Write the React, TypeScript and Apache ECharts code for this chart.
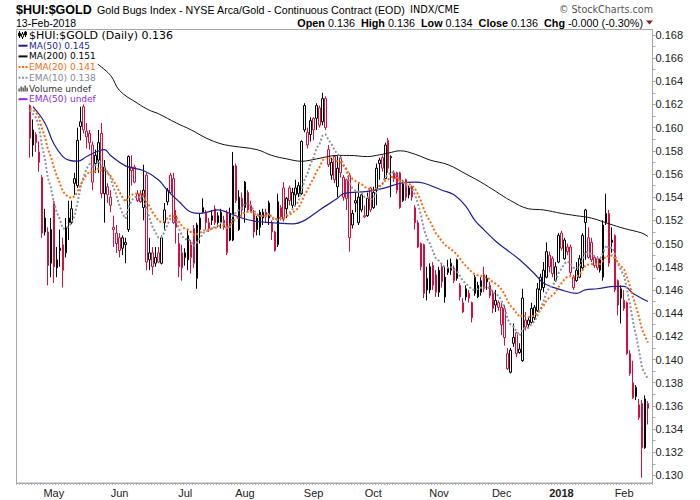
import React, { useEffect, useRef } from "react";
import * as echarts from "echarts";

// ---- calendar (trading days shown on the axis) ----
const holidays = ["2017-04-14", "2017-05-29", "2017-07-04", "2017-09-04", "2017-11-23", "2017-12-25", "2018-01-01", "2018-01-15"];
const firstDay = "2017-04-12";
const totalDays = 213;
const leadDays = 4; // days at the left edge where only the averages are visible

// ---- daily OHLC of $HUI:$GOLD (from 2017-04-19 to 2018-02-13) ----
const opens = [
  0.1619, 0.1585, 0.1587, 0.1579, 0.1557, 0.1510, 0.1510, 0.1483, 0.1536, 0.1479,
  0.1496, 0.1499, 0.1492, 0.1518, 0.1518, 0.1552, 0.1550, 0.1601, 0.1618, 0.1592,
  0.1595, 0.1585, 0.1569, 0.1572, 0.1595, 0.1543, 0.1549, 0.1540, 0.1514, 0.1500,
  0.1505, 0.1505, 0.1499, 0.1512, 0.1566, 0.1566, 0.1537, 0.1543, 0.1531, 0.1559,
  0.1492, 0.1492, 0.1483, 0.1492, 0.1483, 0.1518, 0.1536, 0.1559, 0.1556, 0.1524,
  0.1500, 0.1492, 0.1488, 0.1486, 0.1499, 0.1513, 0.1470, 0.1512, 0.1531, 0.1527,
  0.1518, 0.1520, 0.1530, 0.1518, 0.1518, 0.1520, 0.1527, 0.1503, 0.1503, 0.1567,
  0.1512, 0.1529, 0.1531, 0.1544, 0.1533, 0.1526, 0.1522, 0.1527, 0.1522, 0.1527,
  0.1522, 0.1518, 0.1510, 0.1499, 0.1531, 0.1548, 0.1530, 0.1548, 0.1533, 0.1542,
  0.1543, 0.1543, 0.1619, 0.1596, 0.1594, 0.1608, 0.1608, 0.1617, 0.1605, 0.1625,
  0.1581, 0.1559, 0.1575, 0.1549, 0.1574, 0.1557, 0.1555, 0.1559, 0.1516, 0.1535,
  0.1518, 0.1529, 0.1524, 0.1524, 0.1548, 0.1531, 0.1546, 0.1572, 0.1574, 0.1556,
  0.1589, 0.1574, 0.1561, 0.1561, 0.1561, 0.1537, 0.1555, 0.1548, 0.1549, 0.1531,
  0.1518, 0.1500, 0.1499, 0.1460, 0.1460, 0.1481, 0.1473, 0.1458, 0.1480, 0.1454,
  0.1479, 0.1477, 0.1479, 0.1486, 0.1464, 0.1441, 0.1461, 0.1457, 0.1436, 0.1471,
  0.1454, 0.1458, 0.1473, 0.1470, 0.1464, 0.1457, 0.1447, 0.1449, 0.1445, 0.1444,
  0.1405, 0.1389, 0.1414, 0.1423, 0.1409, 0.1399, 0.1434, 0.1434, 0.1432, 0.1436,
  0.1442, 0.1460, 0.1462, 0.1471, 0.1490, 0.1487, 0.1468, 0.1484, 0.1509, 0.1487,
  0.1497, 0.1497, 0.1471, 0.1468, 0.1471, 0.1479, 0.1518, 0.1505, 0.1501, 0.1488,
  0.1487, 0.1477, 0.1471, 0.1518, 0.1526, 0.1503, 0.1507, 0.1468, 0.1461, 0.1444,
  0.1449, 0.1405, 0.1380, 0.1376, 0.1361, 0.1362, 0.1324, 0.1358,
];
const highs = [
  0.1621, 0.1607, 0.1596, 0.1588, 0.1559, 0.1530, 0.1514, 0.1522, 0.1537, 0.1497,
  0.1512, 0.1505, 0.1522, 0.1537, 0.1537, 0.1561, 0.1600, 0.1618, 0.1624, 0.1604,
  0.1598, 0.1588, 0.1581, 0.1598, 0.1604, 0.1572, 0.1552, 0.1546, 0.1524, 0.1516,
  0.1509, 0.1507, 0.1505, 0.1576, 0.1576, 0.1568, 0.1546, 0.1546, 0.1568, 0.1561,
  0.1505, 0.1497, 0.1497, 0.1497, 0.1507, 0.1535, 0.1548, 0.1561, 0.1561, 0.1529,
  0.1509, 0.1499, 0.1496, 0.1512, 0.1503, 0.1516, 0.1518, 0.1526, 0.1539, 0.1529,
  0.1522, 0.1529, 0.1533, 0.1527, 0.1530, 0.1524, 0.1529, 0.1531, 0.1579, 0.1569,
  0.1546, 0.1544, 0.1554, 0.1546, 0.1537, 0.1529, 0.1524, 0.1529, 0.1530, 0.1530,
  0.1537, 0.1520, 0.1511, 0.1543, 0.1533, 0.1553, 0.1540, 0.1550, 0.1548, 0.1555,
  0.1553, 0.1589, 0.1621, 0.1600, 0.1609, 0.1609, 0.1621, 0.1619, 0.1630, 0.1627,
  0.1585, 0.1574, 0.1576, 0.1576, 0.1576, 0.1559, 0.1556, 0.1561, 0.1529, 0.1544,
  0.1552, 0.1543, 0.1533, 0.1544, 0.1549, 0.1549, 0.1569, 0.1574, 0.1576, 0.1587,
  0.1591, 0.1576, 0.1563, 0.1562, 0.1562, 0.1555, 0.1556, 0.1550, 0.1550, 0.1533,
  0.1520, 0.1501, 0.1500, 0.1480, 0.1483, 0.1484, 0.1477, 0.1480, 0.1483, 0.1480,
  0.1486, 0.1487, 0.1481, 0.1487, 0.1466, 0.1453, 0.1464, 0.1460, 0.1450, 0.1473,
  0.1467, 0.1471, 0.1480, 0.1473, 0.1467, 0.1460, 0.1460, 0.1451, 0.1449, 0.1447,
  0.1410, 0.1410, 0.1431, 0.1424, 0.1414, 0.1461, 0.1441, 0.1436, 0.1449, 0.1447,
  0.1466, 0.1474, 0.1484, 0.1501, 0.1493, 0.1489, 0.1484, 0.1509, 0.1511, 0.1505,
  0.1500, 0.1499, 0.1473, 0.1484, 0.1490, 0.1509, 0.1530, 0.1514, 0.1505, 0.1490,
  0.1489, 0.1487, 0.1520, 0.1543, 0.1529, 0.1514, 0.1508, 0.1469, 0.1464, 0.1460,
  0.1450, 0.1408, 0.1399, 0.1378, 0.1366, 0.1365, 0.1369, 0.1364,
];
const lows = [
  0.1574, 0.1575, 0.1579, 0.1562, 0.1505, 0.1507, 0.1464, 0.1471, 0.1466, 0.1471,
  0.1480, 0.1462, 0.1488, 0.1503, 0.1517, 0.1542, 0.1548, 0.1589, 0.1595, 0.1582,
  0.1581, 0.1546, 0.1561, 0.1561, 0.1539, 0.1518, 0.1535, 0.1527, 0.1497, 0.1492,
  0.1488, 0.1490, 0.1483, 0.1510, 0.1550, 0.1552, 0.1536, 0.1535, 0.1520, 0.1477,
  0.1477, 0.1473, 0.1480, 0.1483, 0.1482, 0.1512, 0.1533, 0.1543, 0.1517, 0.1500,
  0.1471, 0.1468, 0.1481, 0.1477, 0.1474, 0.1479, 0.1461, 0.1500, 0.1526, 0.1512,
  0.1510, 0.1516, 0.1516, 0.1514, 0.1513, 0.1512, 0.1490, 0.1502, 0.1502, 0.1535,
  0.1511, 0.1523, 0.1518, 0.1527, 0.1527, 0.1505, 0.1507, 0.1507, 0.1516, 0.1518,
  0.1516, 0.1503, 0.1493, 0.1497, 0.1520, 0.1519, 0.1522, 0.1533, 0.1529, 0.1533,
  0.1540, 0.1542, 0.1596, 0.1582, 0.1588, 0.1589, 0.1598, 0.1600, 0.1602, 0.1598,
  0.1566, 0.1555, 0.1552, 0.1540, 0.1557, 0.1537, 0.1529, 0.1493, 0.1513, 0.1527,
  0.1516, 0.1527, 0.1522, 0.1523, 0.1527, 0.1530, 0.1533, 0.1555, 0.1562, 0.1556,
  0.1561, 0.1540, 0.1553, 0.1543, 0.1530, 0.1536, 0.1537, 0.1539, 0.1537, 0.1512,
  0.1496, 0.1477, 0.1453, 0.1451, 0.1457, 0.1460, 0.1454, 0.1454, 0.1462, 0.1449,
  0.1473, 0.1473, 0.1466, 0.1468, 0.1451, 0.1440, 0.1451, 0.1449, 0.1432, 0.1455,
  0.1453, 0.1455, 0.1458, 0.1460, 0.1453, 0.1440, 0.1441, 0.1442, 0.1421, 0.1412,
  0.1391, 0.1388, 0.1411, 0.1402, 0.1405, 0.1398, 0.1425, 0.1427, 0.1431, 0.1434,
  0.1441, 0.1451, 0.1458, 0.1470, 0.1475, 0.1471, 0.1467, 0.1483, 0.1494, 0.1486,
  0.1490, 0.1473, 0.1460, 0.1467, 0.1470, 0.1477, 0.1486, 0.1487, 0.1484, 0.1479,
  0.1477, 0.1475, 0.1468, 0.1516, 0.1480, 0.1492, 0.1458, 0.1438, 0.1431, 0.1442,
  0.1404, 0.1386, 0.1366, 0.1365, 0.1348, 0.1298, 0.1323, 0.1344,
];
const closes = [
  0.1591, 0.1598, 0.1594, 0.1570, 0.1509, 0.1522, 0.1481, 0.1512, 0.1480, 0.1486,
  0.1494, 0.1477, 0.1514, 0.1522, 0.1530, 0.1556, 0.1589, 0.1605, 0.1598, 0.1597,
  0.1587, 0.1553, 0.1576, 0.1587, 0.1543, 0.1566, 0.1542, 0.1533, 0.1512, 0.1509,
  0.1494, 0.1496, 0.1501, 0.1575, 0.1563, 0.1553, 0.1543, 0.1536, 0.1546, 0.1484,
  0.1486, 0.1480, 0.1488, 0.1484, 0.1505, 0.1529, 0.1546, 0.1544, 0.1518, 0.1514,
  0.1480, 0.1479, 0.1492, 0.1507, 0.1488, 0.1483, 0.1516, 0.1522, 0.1527, 0.1518,
  0.1513, 0.1524, 0.1518, 0.1524, 0.1527, 0.1514, 0.1492, 0.1526, 0.1567, 0.1537,
  0.1540, 0.1539, 0.1553, 0.1529, 0.1528, 0.1510, 0.1512, 0.1514, 0.1527, 0.1523,
  0.1535, 0.1510, 0.1494, 0.1536, 0.1523, 0.1521, 0.1539, 0.1537, 0.1544, 0.1548,
  0.1550, 0.1588, 0.1598, 0.1585, 0.1606, 0.1598, 0.1619, 0.1602, 0.1625, 0.1600,
  0.1568, 0.1570, 0.1555, 0.1565, 0.1561, 0.1540, 0.1539, 0.1505, 0.1526, 0.1537,
  0.1540, 0.1542, 0.1523, 0.1539, 0.1529, 0.1544, 0.1565, 0.1569, 0.1565, 0.1585,
  0.1565, 0.1575, 0.1556, 0.1546, 0.1531, 0.1552, 0.1540, 0.1542, 0.1540, 0.1518,
  0.1497, 0.1480, 0.1457, 0.1470, 0.1480, 0.1464, 0.1458, 0.1477, 0.1467, 0.1471,
  0.1475, 0.1483, 0.1468, 0.1470, 0.1454, 0.1449, 0.1454, 0.1453, 0.1449, 0.1457,
  0.1464, 0.1468, 0.1461, 0.1467, 0.1455, 0.1444, 0.1451, 0.1445, 0.1430, 0.1419,
  0.1392, 0.1408, 0.1419, 0.1405, 0.1406, 0.1453, 0.1428, 0.1430, 0.1444, 0.1445,
  0.1461, 0.1471, 0.1477, 0.1493, 0.1480, 0.1474, 0.1480, 0.1507, 0.1496, 0.1503,
  0.1493, 0.1475, 0.1462, 0.1477, 0.1487, 0.1507, 0.1529, 0.1488, 0.1486, 0.1481,
  0.1479, 0.1486, 0.1516, 0.1526, 0.1483, 0.1501, 0.1460, 0.1447, 0.1453, 0.1451,
  0.1405, 0.1388, 0.1367, 0.1368, 0.1350, 0.1324, 0.1366, 0.1362,
];

// ---- moving averages (day index on the axis, value) ----
const ma50Days = [5, 9, 12, 15, 17, 20, 23, 26, 29, 31, 36, 42, 47, 50, 54, 58, 61, 67, 70, 75, 80, 85, 92, 96, 101, 107, 109, 117, 123, 128, 133, 136, 142, 146, 150, 153, 156, 160, 164, 168, 173, 176, 182, 187, 190, 194, 200, 203, 206, 211];
const ma50Values = [0.1618, 0.1604, 0.1586, 0.1575, 0.1572, 0.1571, 0.1575, 0.1579, 0.1581, 0.1576, 0.1567, 0.1563, 0.1555, 0.1546, 0.1536, 0.1527, 0.1526, 0.1529, 0.1527, 0.1522, 0.1519, 0.1518, 0.1517, 0.152, 0.1529, 0.1539, 0.1543, 0.1545, 0.1548, 0.1552, 0.1553, 0.1552, 0.1546, 0.1542, 0.1532, 0.152, 0.1512, 0.1502, 0.1494, 0.1486, 0.1474, 0.1466, 0.146, 0.1457, 0.146, 0.1461, 0.1463, 0.1463, 0.1457, 0.145];
const ma200Days = [26, 31, 34, 40, 44, 47, 53, 58, 63, 68, 72, 80, 85, 90, 95, 100, 107, 111, 117, 120, 124, 128, 133, 138, 144, 150, 155, 160, 165, 171, 176, 182, 187, 192, 198, 203, 209, 211];
const ma200Values = [0.1656, 0.1645, 0.1632, 0.1621, 0.1615, 0.1612, 0.1604, 0.1598, 0.1591, 0.1586, 0.1584, 0.1581, 0.1576, 0.1573, 0.1571, 0.1573, 0.1576, 0.1576, 0.1575, 0.1576, 0.1578, 0.158, 0.1577, 0.1572, 0.1568, 0.156, 0.1553, 0.1545, 0.1537, 0.153, 0.1529, 0.1526, 0.1524, 0.1522, 0.1517, 0.1513, 0.1509, 0.1506];
const ema20Start = 0.1617;
const ema10Start = 0.1615;

// ---- axis ticks ----
const yTicks = [0.13, 0.132, 0.134, 0.136, 0.138, 0.14, 0.142, 0.144, 0.146, 0.148, 0.15, 0.152, 0.154, 0.156, 0.158, 0.16, 0.162, 0.164, 0.166, 0.168];
const monthNames = ["Jan", "Feb", "Mar", "Apr", "May", "Jun", "Jul", "Aug", "Sep", "Oct", "Nov", "Dec"];

// ---- header texts ----
const symbolText = "$HUI:$GOLD";
const descText = "Gold Bugs Index - NYSE Arca/Gold - Continuous Contract (EOD)";
const exchText = "INDX/CME";
const dateText = "13-Feb-2018";
const quoteText = "{b|Open} 0.136  {b|High} 0.136  {b|Low} 0.134  {b|Close} 0.136  {b|Chg} -0.000 (-0.30%)";
const legendRows = [
  { label: "$HUI:$GOLD (Daily) 0.136", color: "#000000", icon: "candle" },
  { label: "MA(50) 0.145", color: "#1f1f91", icon: "solid", iconColor: "#1f1f91" },
  { label: "MA(200) 0.151", color: "#000000", icon: "solid", iconColor: "#111111" },
  { label: "EMA(20) 0.141", color: "#f96b0f", icon: "dot", iconColor: "#f96b0f" },
  { label: "EMA(10) 0.138", color: "#7f8a96", icon: "dot", iconColor: "#8c96a0" },
  { label: "Volume undef", color: "#333333", icon: "volume" },
  { label: "EMA(50) undef", color: "#8a2be2", icon: "solid", iconColor: "#8a2be2" },
];

const RED = "#d40f3f";
const BLACK = "#000000";

function tradingDays(start: string, count: number): string[] {
  const out: string[] = [];
  const d = new Date(start + "T00:00:00Z");
  while (out.length < count) {
    const wd = d.getUTCDay();
    const s = d.toISOString().slice(0, 10);
    if (wd !== 0 && wd !== 6 && holidays.indexOf(s) < 0) out.push(s);
    d.setUTCDate(d.getUTCDate() + 1);
  }
  return out;
}

function ema(period: number, start: number): number[] {
  const k = 2 / (period + 1);
  let e = start;
  return closes.map((c, i) => {
    if (i > 0) e = e + k * (c - e);
    return +e.toFixed(5);
  });
}

export default function App() {
  const ref = useRef<HTMLDivElement>(null);
  useEffect(() => {
    document.body.style.margin = "0";
    const el = ref.current!;
    const chart = echarts.init(el, null, { renderer: "svg" });

    const dates = tradingDays(firstDay, totalDays);
    const monthStart = new Set<number>();
    dates.forEach((d, i) => {
      if (i > 0 && d.slice(0, 7) !== dates[i - 1].slice(0, 7)) monthStart.add(i);
    });

    const candleData = dates.map((d, i) => {
      const k = i - leadDays;
      if (k < 0 || k >= closes.length) return "-";
      const o = opens[k], c = closes[k], l = lows[k], h = highs[k];
      const prev = k > 0 ? closes[k - 1] : o;
      const col = c >= prev ? BLACK : RED;
      return { value: [o, c, l, h], itemStyle: { color: "#ffffff", color0: col, borderColor: col, borderColor0: col } };
    });
    const toLine = (vals: number[]) =>
      dates.map((d, i) => {
        const k = i - leadDays;
        return k < 0 || k >= vals.length ? "-" : vals[k];
      });
    const ema20 = toLine(ema(20, ema20Start));
    const ema10 = toLine(ema(10, ema10Start));
    const ma50 = ma50Days.map((d, j) => [d, ma50Values[j]]);
    const ma200 = ma200Days.map((d, j) => [d, ma200Values[j]]);

    const tickMarks: number[] = [];
    yTicks.forEach((v) => {
      tickMarks.push(v);
      if (v < 0.168) tickMarks.push(+(v + 0.001).toFixed(3));
    });

    const ctx = document.createElement("canvas").getContext("2d")!;
    const measure = (t: string, f: string) => {
      ctx.font = f;
      return ctx.measureText(t).width;
    };

    const Z = 100;
    const g: any[] = [];
    g.push({ type: "rect", silent: true, z: 1, shape: { x: 16.5, y: 29.5, width: 636, height: 453.5 }, style: { fill: "none", stroke: "#a8a8a8", lineWidth: 1 } });
    // header
    g.push({ type: "text", silent: true, x: 16, y: 9.5, style: { text: symbolText, font: 'bold 12.5px "Liberation Sans"', fill: "#000", verticalAlign: "middle" } });
    g.push({ type: "text", silent: true, x: 97, y: 9.5, style: { text: descText, font: '10.7px "Liberation Sans"', fill: "#000", verticalAlign: "middle" } });
    g.push({ type: "text", silent: true, x: 410, y: 9.5, style: { text: exchText, font: '9.8px "DejaVu Sans"', fill: "#000", verticalAlign: "middle" } });
    g.push({ type: "text", silent: true, x: 653, y: 9.5, style: { text: "\u00a9 StockCharts.com", font: '9.6px "DejaVu Sans"', fill: "#555", align: "right", verticalAlign: "middle" } });
    g.push({ type: "text", silent: true, x: 16, y: 23, style: { text: dateText, font: '10.5px "Liberation Sans"', fill: "#000", verticalAlign: "middle" } });
    g.push({
      type: "text", silent: true, x: 643, y: 23,
      style: {
        text: quoteText, align: "right", verticalAlign: "middle", fontSize: 10.8, fontFamily: "Liberation Sans", fill: "#000",
        rich: { b: { fontSize: 10.8, fontFamily: "Liberation Sans", fontWeight: "bold", fill: "#000" } },
      },
    });
    g.push({ type: "polygon", silent: true, shape: { points: [[646, 20.5], [653, 20.5], [649.5, 24.5]] }, style: { fill: "#8b1a2e" } });

    // legend inside plot
    legendRows.forEach((row, k) => {
      const cy = 35 + 10.7 * k;
      const font = k === 0 ? '11px "DejaVu Sans"' : '9px "DejaVu Sans"';
      const w = measure(row.label, font);
      const top = Math.max(cy - 5.35, 30.2);
      g.push({ type: "rect", silent: true, z: Z, shape: { x: 17, y: top, width: 14 + w, height: cy + 5.35 - top }, style: { fill: "#ffffff" } });
      g.push({ type: "text", silent: true, z: Z + 2, x: 29, y: cy, style: { text: row.label, font, fill: row.color, verticalAlign: "middle" } });
      if (row.icon === "solid") {
        g.push({ type: "line", silent: true, z: Z + 1, shape: { x1: 18.5, y1: cy, x2: 27.5, y2: cy }, style: { stroke: row.iconColor, lineWidth: 2 } });
      } else if (row.icon === "dot") {
        g.push({ type: "line", silent: true, z: Z + 1, shape: { x1: 18.5, y1: cy, x2: 28, y2: cy }, style: { stroke: row.iconColor, lineWidth: 2, lineDash: [2, 1.5] } });
      } else if (row.icon === "volume") {
        [[18.5, 3], [20.5, 5], [22.5, 4], [24.5, 6], [26.5, 4]].forEach(([x, h]) =>
          g.push({ type: "rect", silent: true, z: Z + 1, shape: { x, y: cy + 3 - h, width: 1.3, height: h }, style: { fill: "#444" } })
        );
      } else if (row.icon === "candle") {
        [[19.5, -4, 3, -2, 1, true], [22.5, -3, 4, -1, 2, false], [25.5, -4, 2, -3, 0, true]].forEach(([x, a, b, c, d, filled]: any) => {
          g.push({ type: "line", silent: true, z: Z + 1, shape: { x1: x, y1: cy + a, x2: x, y2: cy + b }, style: { stroke: "#000", lineWidth: 1 } });
          g.push({ type: "rect", silent: true, z: Z + 1, shape: { x: x - 1, y: cy + c, width: 2, height: d - c }, style: { fill: filled ? "#000" : "#fff", stroke: "#000", lineWidth: 0.8 } });
        });
      }
    });

    const option: any = {
      animation: false,
      backgroundColor: "#ffffff",
      textStyle: { fontFamily: "Liberation Sans" },
      grid: { left: 16.5, right: 47.5, top: 29.5, bottom: 17, containLabel: false },
      xAxis: {
        type: "category",
        data: dates,
        boundaryGap: true,
        axisLine: { show: true, lineStyle: { color: "#a8a8a8", width: 1 } },
        axisTick: { show: true, interval: 0, length: 2, lineStyle: { color: "#b5b5b5" } },
        axisLabel: {
          interval: (i: number) => monthStart.has(i),
          formatter: (v: string) => {
            const m = +v.slice(5, 7) - 1;
            return m === 0 ? "{y|" + v.slice(0, 4) + "}" : monthNames[m];
          },
          margin: 4,
          fontSize: 11,
          fontFamily: "Liberation Sans",
          color: "#222",
          rich: { y: { fontWeight: "bold", fontSize: 11, fontFamily: "Liberation Sans", color: "#222" } },
        },
        splitLine: { show: false },
      },
      yAxis: {
        type: "value",
        position: "right",
        min: 0.12935,
        max: 0.16846,
        axisLine: { show: true, lineStyle: { color: "#a8a8a8", width: 1 } },
        axisTick: { show: true, length: 3, customValues: tickMarks, lineStyle: { color: "#a8a8a8" } },
        axisLabel: { customValues: yTicks, formatter: (v: number) => v.toFixed(3), margin: 3, fontSize: 11, fontFamily: "Liberation Sans", color: "#222" },
        splitLine: { show: false },
      },
      series: [
        {
          type: "candlestick",
          name: "$HUI:$GOLD",
          data: candleData,
          barWidth: 2,
          itemStyle: { borderWidth: 1 },
          z: 2,
        },
        { type: "line", name: "MA(200)", data: ma200, showSymbol: false, symbol: "none", smooth: 0.4, lineStyle: { color: "#111", width: 1 }, z: 3 },
        { type: "line", name: "MA(50)", data: ma50, showSymbol: false, symbol: "none", smooth: 0.4, lineStyle: { color: "#1f1f91", width: 1.2 }, z: 3 },
        { type: "line", name: "EMA(10)", data: ema10, showSymbol: false, symbol: "none", lineStyle: { color: "#8c96a0", width: 2, type: [2, 2] }, z: 4 },
        { type: "line", name: "EMA(20)", data: ema20, showSymbol: false, symbol: "none", lineStyle: { color: "#f96b0f", width: 2, type: [2, 2] }, z: 5 },
      ],
      graphic: g,
    };
    chart.setOption(option);
    return () => chart.dispose();
  }, []);
  return <div ref={ref} style={{ width: 700, height: 500 }} />;
}
